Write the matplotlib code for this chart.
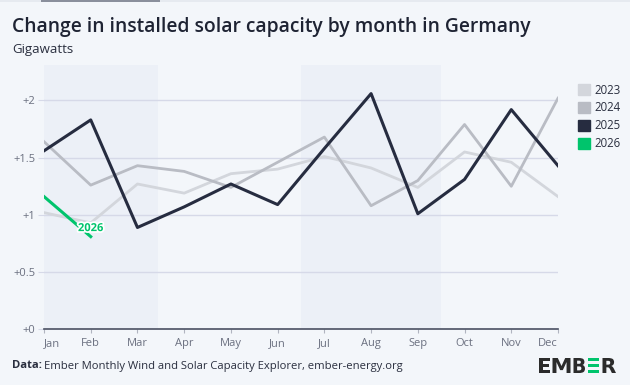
import numpy as np
import matplotlib.pyplot as plt
import matplotlib.patches as mpatches
import matplotlib.patheffects as pe
from matplotlib.textpath import TextPath
from matplotlib.font_manager import FontProperties
from matplotlib.transforms import Affine2D

months = ["Jan", "Feb", "Mar", "Apr", "May", "Jun", "Jul", "Aug", "Sep", "Oct", "Nov", "Dec"]
y2023 = [1.02, 0.93, 1.27, 1.19, 1.36, 1.40, 1.51, 1.41, 1.24, 1.55, 1.46, 1.16]
y2024 = [1.64, 1.26, 1.43, 1.38, 1.24, 1.46, 1.68, 1.08, 1.30, 1.79, 1.25, 2.02]
y2025 = [1.56, 1.83, 0.89, 1.07, 1.27, 1.09, 1.58, 2.06, 1.01, 1.31, 1.92, 1.43]
y2026 = [1.16, 0.81]
yticks = [0, 0.5, 1, 1.5, 2]
ytick_labels = ["+0", "+0.5", "+1", "+1.5", "+2"]

bg = "#f3f6fa"
band = "#ecf0f7"
colors = {"2023": "#d3d6dc", "2024": "#b9bcc4", "2025": "#262c40", "2026": "#00c46c"}
plt.rcParams["font.family"] = ["Open Sans", "DejaVu Sans"]

W, H = 630, 385
fig = plt.figure(figsize=(6.3, 3.85), dpi=100, facecolor=bg)
ax = fig.add_axes([44 / W, 1 - 329.3 / H, 514 / W, (329.3 - 65) / H])
ax.set_facecolor(bg)

x = np.arange(12)
ax.set_xlim(0, 11)
ax.set_ylim(0, 2.31)

# quarter bands (Q1, Q3)
ax.axvspan(-0.5, 2.45, color=band, zorder=0, lw=0)
ax.axvspan(5.5, 8.5, color=band, zorder=0, lw=0)

for yv in yticks[1:]:
    ax.axhline(yv, color="#d6d9e8", lw=1, zorder=1)

ax.plot(x, y2023, color=colors["2023"], lw=2, zorder=2)
ax.plot(x, y2024, color=colors["2024"], lw=2, zorder=3)
ax.plot(x, y2025, color=colors["2025"], lw=2.2, zorder=4)
ax.plot(x[:len(y2026)], y2026, color=colors["2026"], lw=2.2, zorder=5)
ax.text(x[len(y2026) - 1], y2026[-1] + 0.07, "2026", color=colors["2026"], fontsize=8,
        fontweight="bold", ha="center", va="center", zorder=6,
        path_effects=[pe.withStroke(linewidth=2.5, foreground="white")])

for s in ["top", "right", "left"]:
    ax.spines[s].set_visible(False)
ax.spines["bottom"].set_color("#4a5062")
ax.spines["bottom"].set_linewidth(1.2)
ax.spines["bottom"].set_zorder(7)

ax.set_xticks(x)
ax.set_xticklabels(months)
ax.set_yticks(yticks)
ax.set_yticklabels(ytick_labels)
ax.tick_params(axis="x", colors="#b0b4c0", length=3, labelcolor="#6b7080", labelsize=8, pad=3)
ax.tick_params(axis="y", colors="#d6d9e8", length=4, labelcolor="#6b7080", labelsize=8, pad=2)
xt = ax.get_xticklabels()
xt[0].set_ha("left")
xt[-1].set_ha("right")

# title
fig.text(12 / W, 1 - 27 / H, "Change in installed solar capacity by month in Germany",
         fontsize=13.9, fontweight="semibold", color="#1e2333", va="center", ha="left")
fig.text(12 / W, 1 - 50 / H, "Gigawatts", fontsize=9.5, color="#2a2f3f", va="center", ha="left")

# legend
handles = [mpatches.Patch(color=colors[k], label=k) for k in ["2023", "2024", "2025", "2026"]]
fig.legend(handles=handles, loc="upper left", bbox_to_anchor=(573 / W, 1 - 79 / H),
           frameon=False, fontsize=8.3, handlelength=1.05, handleheight=1.05,
           handletextpad=0.45, labelspacing=0.42, borderaxespad=0, labelcolor="#2a2f3f")

# footer
fig.text(12 / W, 1 - 366 / H, "Data:", fontsize=8.1, fontweight="bold",
         color="#2a2f3f", va="center", ha="left")
fig.text(44 / W, 1 - 366 / H, "Ember Monthly Wind and Solar Capacity Explorer, ember-energy.org",
         fontsize=8.1, color="#2a2f3f", va="center", ha="left")

# logo, each glyph fitted to its box (pixels from top-left)
fp = FontProperties(family="DejaVu Sans", weight="bold")


def logo_letter(ch, x0, x1, ytop, ybot, color="#2b2b2b"):
    path = TextPath((0, 0), ch, size=10, prop=fp)
    ext = path.get_extents()
    sx = (x1 - x0) / ext.width / W
    sy = (ybot - ytop) / ext.height / H
    tr = Affine2D().translate(-ext.x0, -ext.y0).scale(sx, sy).translate(x0 / W, 1 - ybot / H)
    fig.add_artist(mpatches.PathPatch(path, transform=tr + fig.transFigure, color=color, lw=0))


logo_letter("E", 539, 550, 358, 373)
logo_letter("M", 552.5, 570.5, 358, 373)
logo_letter("B", 573.5, 585, 358, 373)
for i in range(3):
    fig.add_artist(mpatches.Rectangle((587.5 / W, 1 - (361.4 + i * 5.8) / H), 11 / W, 3.4 / H,
                                      transform=fig.transFigure, color="#00c46c", lw=0))
logo_letter("R", 602.5, 616, 358, 373)

# top tab strip
fig.add_artist(mpatches.Rectangle((0, 1 - 2 / H), 1, 2 / H, transform=fig.transFigure,
                                  color="#e6eaf0", lw=0))
fig.add_artist(mpatches.Rectangle((41 / W, 1 - 2 / H), 119 / W, 2 / H,
                                  transform=fig.transFigure, color="#8a8f9c", lw=0))

fig.savefig("out.png", dpi=100, facecolor=bg)
